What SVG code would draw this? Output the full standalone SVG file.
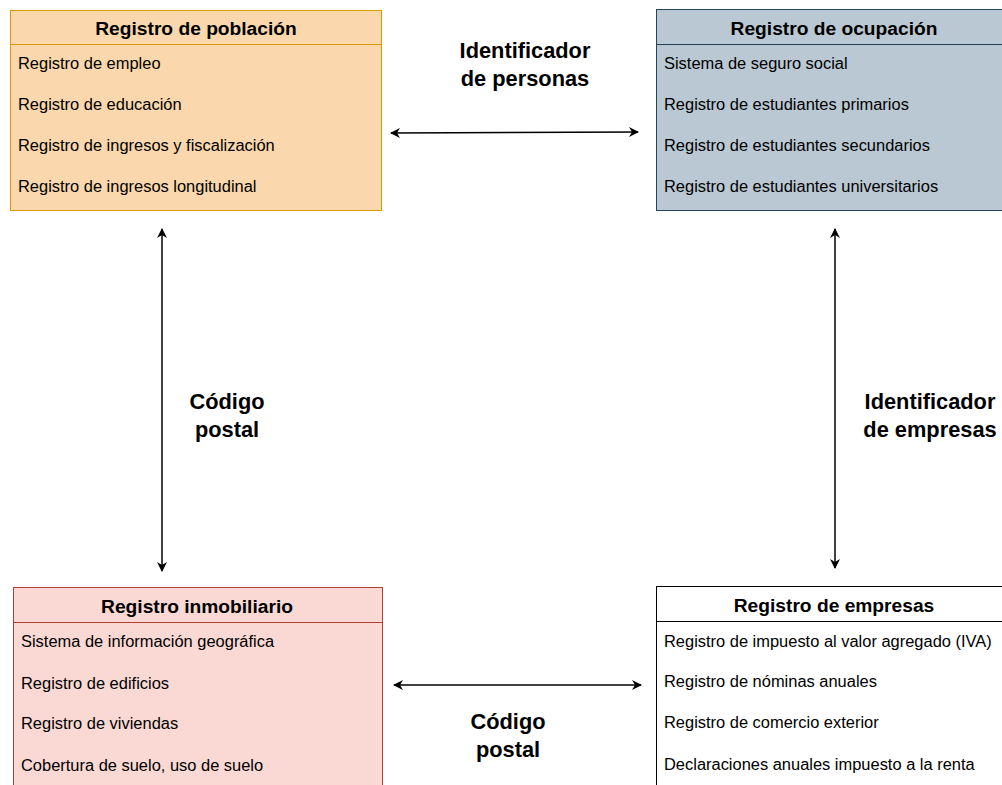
<svg xmlns="http://www.w3.org/2000/svg" width="1002" height="785" viewBox="0 0 1002 785">
<style>
.title{font-family:"Liberation Sans",Arial,sans-serif;font-size:19.2px;font-weight:bold;fill:#000;text-anchor:middle}
.item{font-family:"Liberation Sans",Arial,sans-serif;font-size:16.45px;fill:#000}
.lbl{font-family:"Liberation Sans",Arial,sans-serif;font-size:21.8px;font-weight:bold;fill:#000;text-anchor:middle}
.conn{stroke:#000;stroke-width:1.5;fill:none;marker-start:url(#ah);marker-end:url(#ah)}
</style>
<defs>
<marker id="ah" viewBox="0 0 10 10" refX="9" refY="5" markerWidth="10" markerHeight="10" markerUnits="userSpaceOnUse" orient="auto-start-reverse">
<path d="M0,0 L10,5 L0,10 L3,5 Z" fill="#000"/>
</marker>
</defs>
<rect width="1002" height="785" fill="#fff"/>
<g id="poblacion">
<rect x="10.5" y="10.5" width="371" height="200" fill="#fad7ac" stroke="#d79b00"/>
<line x1="10.5" y1="44.5" x2="381.5" y2="44.5" stroke="#d79b00"/>
<text class="title" x="196" y="35">Registro de población</text>
<text class="item" x="18" y="69">Registro de empleo</text>
<text class="item" x="18" y="110">Registro de educación</text>
<text class="item" x="18" y="151">Registro de ingresos y fiscalización</text>
<text class="item" x="18" y="192">Registro de ingresos longitudinal</text>
</g>
<g id="ocupacion">
<rect x="656.5" y="9.5" width="356" height="201" fill="#bac8d3" stroke="#23445d"/>
<line x1="656.5" y1="44.5" x2="1012.5" y2="44.5" stroke="#23445d"/>
<text class="title" x="834" y="35">Registro de ocupación</text>
<text class="item" x="664" y="69">Sistema de seguro social</text>
<text class="item" x="664" y="110">Registro de estudiantes primarios</text>
<text class="item" x="664" y="151">Registro de estudiantes secundarios</text>
<text class="item" x="664" y="192">Registro de estudiantes universitarios</text>
</g>
<g id="inmobiliario">
<rect x="13.5" y="587.5" width="369" height="220" fill="#fad9d5" stroke="#ae4132"/>
<line x1="13.5" y1="622.5" x2="382.5" y2="622.5" stroke="#ae4132"/>
<text class="title" x="197" y="613">Registro inmobiliario</text>
<text class="item" x="21" y="647">Sistema de información geográfica</text>
<text class="item" x="21" y="689">Registro de edificios</text>
<text class="item" x="21" y="729">Registro de viviendas</text>
<text class="item" x="21" y="771">Cobertura de suelo, uso de suelo</text>
</g>
<g id="empresas">
<rect x="656.5" y="586.5" width="356" height="220" fill="#fff" stroke="#000"/>
<line x1="656.5" y1="621.5" x2="1012.5" y2="621.5" stroke="#000"/>
<text class="title" x="834" y="612">Registro de empresas</text>
<text class="item" x="664" y="647">Registro de impuesto al valor agregado (IVA)</text>
<text class="item" x="664" y="687">Registro de nóminas anuales</text>
<text class="item" x="664" y="728">Registro de comercio exterior</text>
<text class="item" x="664" y="770">Declaraciones anuales impuesto a la renta</text>
</g>
<g id="connectors">
<line class="conn" x1="391" y1="133" x2="638" y2="132"/>
<line class="conn" x1="162" y1="229" x2="162" y2="571"/>
<line class="conn" x1="835" y1="229" x2="835" y2="568"/>
<line class="conn" x1="394" y1="685" x2="641" y2="685"/>
</g>
<g id="labels">
<text class="lbl" x="525" y="58">Identificador</text>
<text class="lbl" x="525" y="86">de personas</text>
<text class="lbl" x="227" y="409">Código</text>
<text class="lbl" x="227" y="437">postal</text>
<text class="lbl" x="930" y="409">Identificador</text>
<text class="lbl" x="930" y="437">de empresas</text>
<text class="lbl" x="508" y="729">Código</text>
<text class="lbl" x="508" y="757">postal</text>
</g>
</svg>
